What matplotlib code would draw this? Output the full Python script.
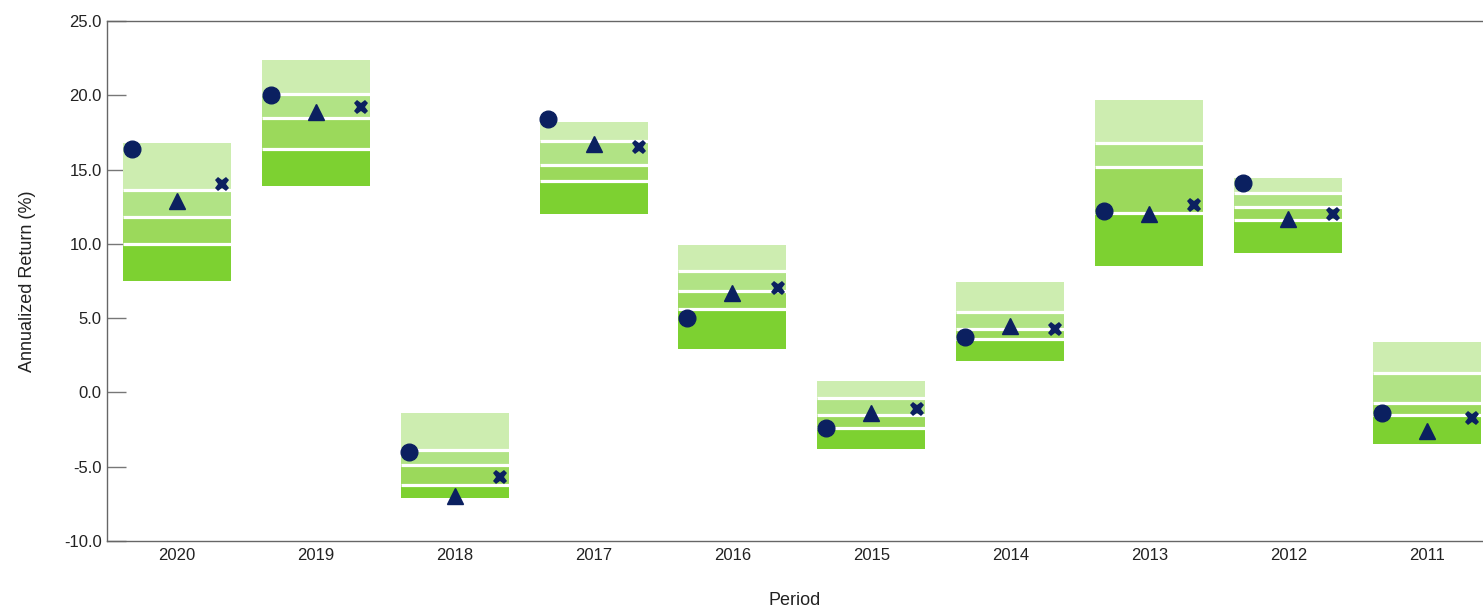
import matplotlib
matplotlib.use("Agg")
import matplotlib.pyplot as plt
import numpy as np

plt.rcParams['font.family'] = ['Liberation Sans', 'DejaVu Sans']

periods = ["2020", "2019", "2018", "2017", "2016", "2015", "2014", "2013", "2012", "2011"]
# percentile boundaries of the peer-group box (top, 25th, median, 75th, bottom)
p_top    = [16.8, 22.4, -1.4, 18.2, 9.9, 0.8, 7.4, 19.7, 14.4, 3.4]
p_25     = [13.6, 20.1, -3.9, 16.9, 8.2, -0.4, 5.4, 16.8, 13.4, 1.3]
p_50     = [11.8, 18.5, -4.9, 15.3, 6.8, -1.5, 4.3, 15.2, 12.5, -0.7]
p_75     = [10.0, 16.4, -6.2, 14.2, 5.6, -2.4, 3.6, 12.1, 11.6, -1.5]
p_bottom = [7.5, 13.9, -7.1, 12.0, 2.9, -3.8, 2.1, 8.5, 9.4, -3.5]
# marker series
circle_vals   = [16.4, 20.0, -4.0, 18.4, 5.0, -2.4, 3.7, 12.2, 14.1, -1.4]
triangle_vals = [12.9, 18.9, -7.0, 16.7, 6.7, -1.4, 4.5, 12.0, 11.7, -2.6]
cross_vals    = [14.0, 19.2, -5.7, 16.5, 7.0, -1.1, 4.3, 12.6, 12.0, -1.7]

band_colors = ["#cdedb0", "#b1e385", "#9bd95b", "#7dd131"]
marker_color = "#0b2060"

fig = plt.figure(figsize=(14.83, 6.07), dpi=100)
ax = fig.add_axes([0.0722, 0.1087, 0.9278, 0.8567])

x = np.arange(len(periods))
width = 0.777
tops = np.array(p_top); q1 = np.array(p_25); q2 = np.array(p_50); q3 = np.array(p_75); bot = np.array(p_bottom)
bands = [(q1, tops), (q2, q1), (q3, q2), (bot, q3)]
for (lo, hi), c in zip(bands, band_colors):
    ax.bar(x, hi - lo, bottom=lo, width=width, color=c, edgecolor='none', zorder=2)
for sep in (q1, q2, q3):
    ax.hlines(sep, x - width / 2, x + width / 2, colors='white', linewidth=2.3, zorder=3)

off = 0.324
ax.plot(x - off, circle_vals, linestyle='none', marker='o', markersize=12, color=marker_color, zorder=5)
ax.plot(x, triangle_vals, linestyle='none', marker='^', markersize=11, color=marker_color, zorder=5)
ax.plot(x + off, cross_vals, linestyle='none', marker='X', markersize=10.5, color=marker_color,
        markeredgewidth=0, zorder=5)

ax.set_xlim(-0.5, 9.4)
ax.set_ylim(-10, 25)
ax.set_yticks(np.arange(-10, 25.1, 5))
ax.set_yticklabels([f"{v:.1f}" for v in np.arange(-10, 25.1, 5)])
ax.set_xticks(x)
ax.set_xticklabels(periods)
ax.tick_params(axis='y', direction='in', length=14, width=1, color='#777777', labelsize=12, pad=4,
               labelcolor='#222222')
ax.tick_params(axis='x', length=0, labelsize=12, pad=5, labelcolor='#222222')
for s in ('left', 'bottom', 'top'):
    ax.spines[s].set_color('#666666')
    ax.spines[s].set_linewidth(1)
ax.spines['right'].set_visible(False)

ax.set_ylabel("Annualized Return (%)", fontsize=13, labelpad=20, color='#222222')
ax.set_xlabel("Period", fontsize=13, labelpad=21, color='#222222')

fig.savefig("out.png", dpi=100)
